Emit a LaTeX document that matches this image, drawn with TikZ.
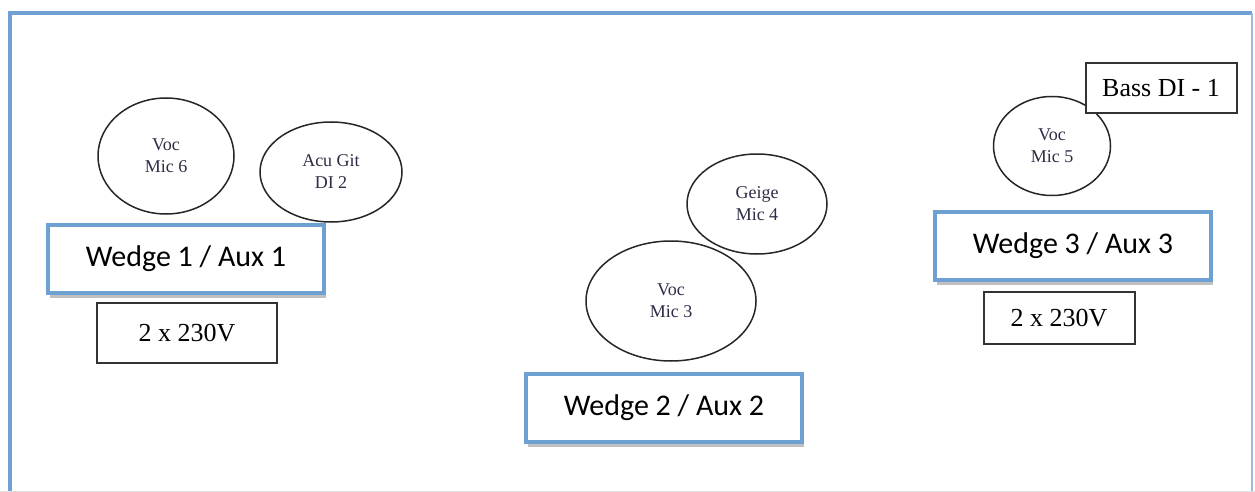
\documentclass[tikz,border=0pt]{standalone}
\usepackage{fontspec}
\setmainfont{Liberation Serif}
\newfontfamily\wedgefont{Carlito}
\usetikzlibrary{shapes.geometric,shadows}
\definecolor{frameblue}{RGB}{112,160,212}
\definecolor{boxblue}{RGB}{110,160,210}
\definecolor{mictext}{RGB}{45,45,70}
\tikzset{
  mic/.style={ellipse,draw=black!85,line width=1.5pt,inner sep=0pt,align=center,
    text=mictext,font=\fontsize{18}{22}\selectfont},
  wedge/.style={rectangle,draw=boxblue,line width=4pt,fill=white,inner sep=0pt,
    minimum width=276pt,minimum height=68pt,font=\wedgefont\fontsize{30}{32}\selectfont,
    drop shadow={shadow xshift=2pt,shadow yshift=-5pt,opacity=0.45,fill=black!55}},
  plain/.style={rectangle,draw=black!80,line width=2pt,fill=white,inner sep=0pt,
    font=\fontsize{26}{30}\selectfont}
}
\begin{document}
\begin{tikzpicture}[x=1pt,y=-1pt]
\useasboundingbox (0,0) rectangle (1255,492);
% frame
\coordinate (fbl) at (10,492);
\coordinate (ftl) at (10,13);
\coordinate (ftr) at (1252,13);
\coordinate (fbr) at (1252,492);
\draw[frameblue,line width=4pt] (fbl) -- (ftl) -- (ftr);
\draw[frameblue!70,line width=2pt] (ftr) -- (fbr);
\draw[black!12,line width=1pt] (0,491.5) -- (1255,491.5);
% microphones
\node[mic,minimum width=136pt,minimum height=116pt] (mic6) at (166,156) {Voc\\Mic 6};
\node[mic,minimum width=142pt,minimum height=100pt] (acu) at (331,172) {Acu Git\\DI 2};
\node[mic,minimum width=140pt,minimum height=100pt] (geige) at (757,204) {Geige\\Mic 4};
\node[mic,minimum width=170pt,minimum height=120pt] (mic3) at (671,301) {Voc\\Mic 3};
\node[mic,minimum width=117pt,minimum height=99pt] (mic5) at (1052,146) {Voc\\Mic 5};
% wedges
\node[wedge] (w1) at (186,259) {Wedge 1 / Aux 1};
\node[wedge] (w2) at (664,408) {Wedge 2 / Aux 2};
\node[wedge] (w3) at (1073,246) {Wedge 3 / Aux 3};
% power / DI boxes
\node[plain,minimum width=180pt,minimum height=60pt] (pw1) at (187,333) {2 x 230V};
\node[plain,minimum width=151pt,minimum height=52pt] (pw3) at (1059,318) {2 x 230V};
\node[plain,minimum width=151pt,minimum height=50pt] (bass) at (1161,88) {Bass DI - 1};
\end{tikzpicture}
\end{document}
